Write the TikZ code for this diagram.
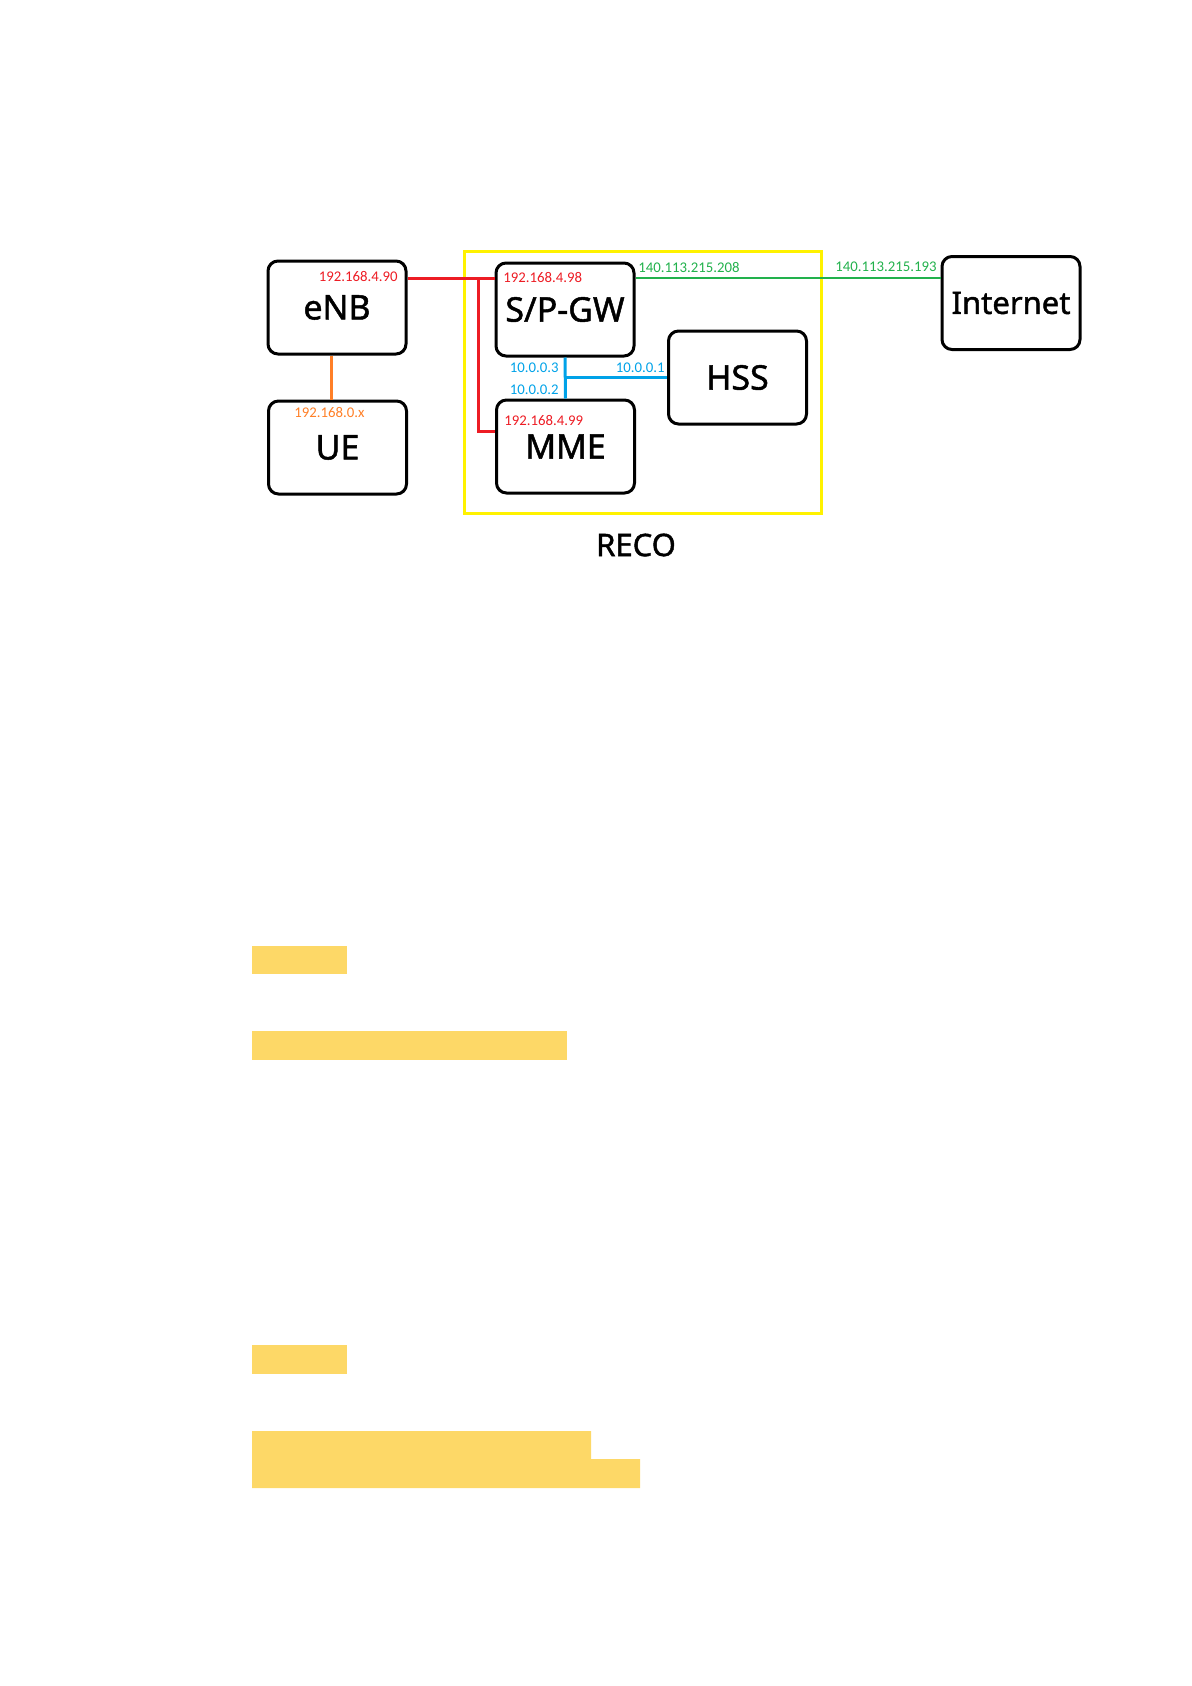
\documentclass[tikz,border=0pt]{standalone}
\usepackage{fontspec}
\setmainfont{Noto Sans}
\newfontfamily\boxfont[FakeBold=1.4]{Noto Sans}
\newfontfamily\ipfont{Carlito}
\usetikzlibrary{positioning}
\definecolor{PaintRed}{HTML}{ED1C24}
\definecolor{PaintGreen}{HTML}{22B14C}
\definecolor{PaintBlue}{HTML}{00A2E8}
\definecolor{PaintOrange}{HTML}{FF7F27}
\definecolor{PaintYellow}{HTML}{FFF200}
\definecolor{HiYellow}{HTML}{FDD867}
\tikzset{
  netbox/.style={draw, line width=1.5pt, rounded corners=5pt, minimum width=69pt,
    minimum height=46.5pt, inner sep=0pt, font=\boxfont\fontsize{17}{19}\selectfont},
  iplabel/.style={inner sep=0pt, font=\ipfont\fontsize{7.4}{8}\selectfont},
  hibar/.style={fill=HiYellow, draw=none}
}
\begin{document}
\begin{tikzpicture}[x=0.5pt, y=-0.5pt]  % pixel grid, y downwards
  \useasboundingbox (0,0) rectangle (1192,1686);
  % RECO frame
  \draw[PaintYellow, line width=1.5pt] (464,251) rectangle (821,513);
  \node[font=\boxfont\fontsize{15.5}{17}\selectfont] (reco) at (636,545) {RECO};
  % boxes
  \node[netbox] (enb) at (337,307.5) {eNB};
  \node[netbox] (ue) at (337.5,447.5) {UE};
  \node[netbox] (spgw) at (565,309.5) {S/P-GW};
  \node[netbox] (mme) at (565.5,446.5) {MME};
  \node[netbox] (hss) at (737.5,377.5) {HSS};
  \node[netbox, font=\boxfont\fontsize{15.5}{17}\selectfont] (inet) at (1011,303) {Internet};
  % addresses
  \node[iplabel, PaintRed, anchor=east] (ipenb) at (398,277) {192.168.4.90};
  \node[iplabel, PaintRed, anchor=west] (ipspgw) at (503,278) {192.168.4.98};
  \node[iplabel, PaintRed, anchor=west] (ipmme) at (504,420) {192.168.4.99};
  \node[iplabel, PaintOrange, anchor=west] (ipue) at (294,413) {192.168.0.x};
  \node[iplabel, PaintGreen, anchor=west] (ipgw) at (638,268) {140.113.215.208};
  \node[iplabel, PaintGreen, anchor=east] (ipnet) at (937,267) {140.113.215.193};
  \node[iplabel, PaintBlue, anchor=east] (ipsgi) at (559,368) {10.0.0.3};
  \node[iplabel, PaintBlue, anchor=east] (ips6a) at (559,390) {10.0.0.2};
  \node[iplabel, PaintBlue, anchor=east] (iphss) at (665,368) {10.0.0.1};
  % links
  \coordinate (tap) at (478,278);
  \draw[PaintRed, line width=1.5pt] (enb.east |- tap) -- (spgw.west |- tap);
  \draw[PaintRed, line width=1.5pt] (tap) |- ([yshift=7.75pt]mme.west);
  \draw[PaintOrange, line width=1.5pt] ([xshift=-3pt]enb.south) -- ([xshift=-3pt]enb.south |- ue.north);
  \draw[PaintGreen, line width=1pt] ([yshift=15.75pt]spgw.east) -- ([yshift=15.75pt]spgw.east -| inet.west);
  \draw[PaintBlue, line width=1.5pt] (spgw.south) -- (mme.north);
  \draw[PaintBlue, line width=1.5pt] (spgw.south |- hss.west) -- (hss.west);
  % highlighted text bars
  \fill[HiYellow] (252,946) rectangle (347,974);
  \fill[HiYellow] (252,1031) rectangle (567,1060);
  \fill[HiYellow] (252,1345) rectangle (347,1374);
  \fill[HiYellow] (252,1431) -- (591,1431) -- (591,1459) -- (640,1459) -- (640,1488) -- (252,1488) -- cycle;
\end{tikzpicture}
\end{document}
